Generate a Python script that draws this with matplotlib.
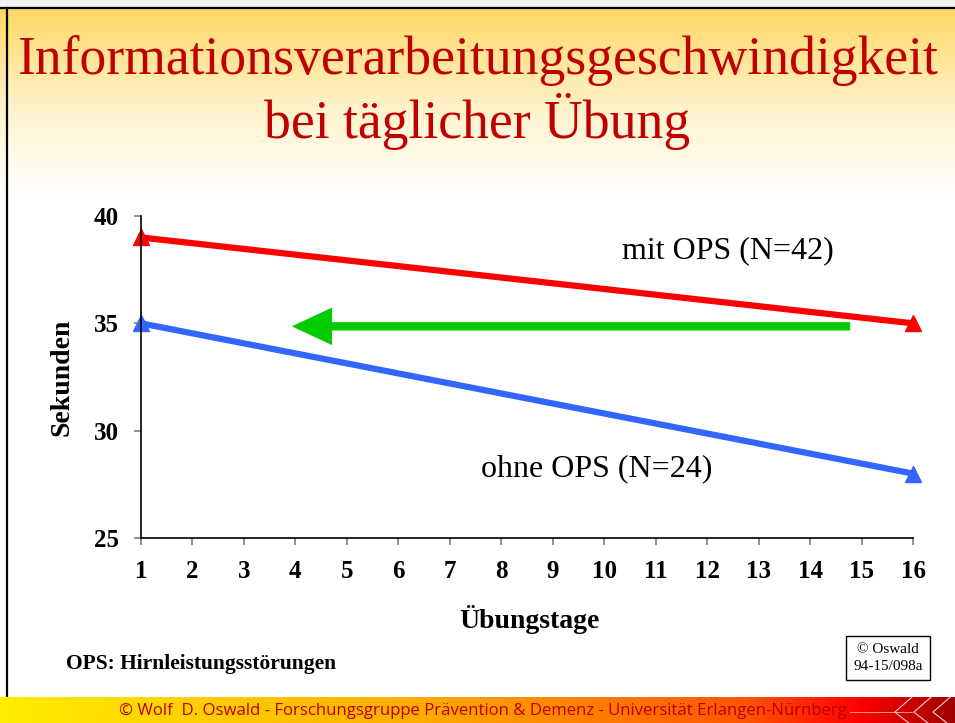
import numpy as np
import matplotlib.pyplot as plt
from matplotlib.colors import LinearSegmentedColormap

# Data
days = [1, 16]
mit_ops = [39, 35]      # mit OPS (N=42)
ohne_ops = [35, 28]     # ohne OPS (N=24)
x_ticks = list(range(1, 17))
y_ticks = [25, 30, 35, 40]

serif = "Liberation Serif"

fig = plt.figure(figsize=(9.55, 7.23), dpi=100)

# slide background: yellow fade at the top
bg = fig.add_axes([0, 0, 1, 1], zorder=-10)
bg.axis("off")
grad = np.linspace(0, 1, 256).reshape(-1, 1)
top_cmap = LinearSegmentedColormap.from_list(
    "top", [(0, "#ffd865"), (0.55, "#fff4d0"), (1, "#ffffff")])
bg.imshow(grad, cmap=top_cmap, aspect="auto",
          extent=[0, 1, 1 - 200 / 723, 1 - 9 / 723])
bg.set_xlim(0, 1)
bg.set_ylim(0, 1)
# frame lines at top and left
bg.plot([0, 1], [1 - 8 / 723] * 2, color="black", lw=1.6)
bg.plot([7 / 955] * 2, [26 / 723, 1 - 8 / 723], color="black", lw=1.6)
bg.fill_between([0, 1], 1 - 7 / 723, 1, color="#f2f2f2")

# footer bar
foot = fig.add_axes([0, 0, 1, 26 / 723], zorder=-5)
foot.axis("off")
foot_cmap = LinearSegmentedColormap.from_list(
    "foot", [(0, "#ffee00"), (0.45, "#ffaa00"), (0.78, "#ff5500"),
             (0.9, "#ff0000"), (1, "#a00000")])
foot.imshow(np.linspace(0, 1, 512).reshape(1, -1), cmap=foot_cmap,
            aspect="auto", extent=[0, 1, 0, 1])
foot.set_xlim(0, 1)
foot.set_ylim(0, 1)
foot.plot([0.89, 0.955], [0.42, 0.42], color="#ffb0a0", lw=0.6)
for x0 in [0.955, 0.975, 0.995]:
    foot.plot([x0, x0 - 0.018, x0], [1.0, 0.42, -0.1], color="#ffd0d0", lw=0.8)
foot.text(0.5 + 5 / 955, 0.45,
          "© Wolf  D. Oswald - Forschungsgruppe Prävention & Demenz - "
          "Universität Erlangen-Nürnberg", ha="center", va="center",
          fontsize=12.1, family="Open Sans", color="#b80000")

# title
fig.text(0.5, 1 - 60 / 723, "Informationsverarbeitungsgeschwindigkeit",
         ha="center", va="center", fontsize=38.6, family=serif, color="#c00000")
fig.text(0.5, 1 - 122 / 723, "bei täglicher Übung",
         ha="center", va="center", fontsize=38.6, family=serif, color="#c00000")

# chart
ax = fig.add_axes([141 / 955, 1 - 538 / 723, 772 / 955, 322 / 723])
ax.patch.set_alpha(0)
ax.plot(days, mit_ops, color="#ff0000", lw=4.5, marker="^", markersize=11,
        clip_on=False)
ax.plot(days, ohne_ops, color="#3366ff", lw=4.5, marker="^", markersize=11,
        clip_on=False)

# green arrow pointing back to day ~4
ax.annotate("", xy=(3.93, 34.86), xytext=(14.78, 34.86),
            arrowprops=dict(arrowstyle="simple,head_length=2.9,head_width=2.7,"
                                       "tail_width=0.6",
                            fc="#00cc00", ec="none", lw=0, mutation_scale=10,
                            shrinkA=0, shrinkB=0))

ax.text(12.41, 38.37, "mit OPS (N=42)", ha="center", va="center",
        fontsize=23, family=serif)
ax.text(9.86, 28.22, "ohne OPS (N=24)", ha="center", va="center",
        fontsize=23, family=serif)

ax.set_xlim(1, 16)
ax.set_ylim(25, 40)
ax.set_xticks(x_ticks)
ax.set_yticks(y_ticks)
for lab in ax.get_xticklabels() + ax.get_yticklabels():
    lab.set_family(serif)
    lab.set_fontweight("bold")
    lab.set_fontsize(18)
ax.tick_params(axis="both", direction="out", length=5, width=1.2,
               color="#808080", pad=11)
ax.spines["top"].set_visible(False)
ax.spines["right"].set_visible(False)
ax.spines["left"].set_linewidth(1.2)
ax.spines["bottom"].set_linewidth(1.2)

ax.set_ylabel("Sekunden", family=serif, fontweight="bold", fontsize=20,
              va="center")
ax.yaxis.set_label_coords(-0.102, 0.5)
ax.set_xlabel("Übungstage", family=serif, fontweight="bold", fontsize=20,
              va="center")
ax.xaxis.set_label_coords(0.503, -0.2516)

fig.text(66 / 955, 1 - 664 / 723, "OPS: Hirnleistungsstörungen",
         ha="left", va="center", family=serif, fontweight="bold", fontsize=15.5)
fig.text(888 / 955, 1 - 658 / 723, "© Oswald\n94-15/098a", ha="center",
         va="center", family=serif, fontsize=11, linespacing=1.4,
         bbox=dict(boxstyle="square,pad=0.45", fc="white", ec="black", lw=1))

fig.savefig("out.png", dpi=100)
